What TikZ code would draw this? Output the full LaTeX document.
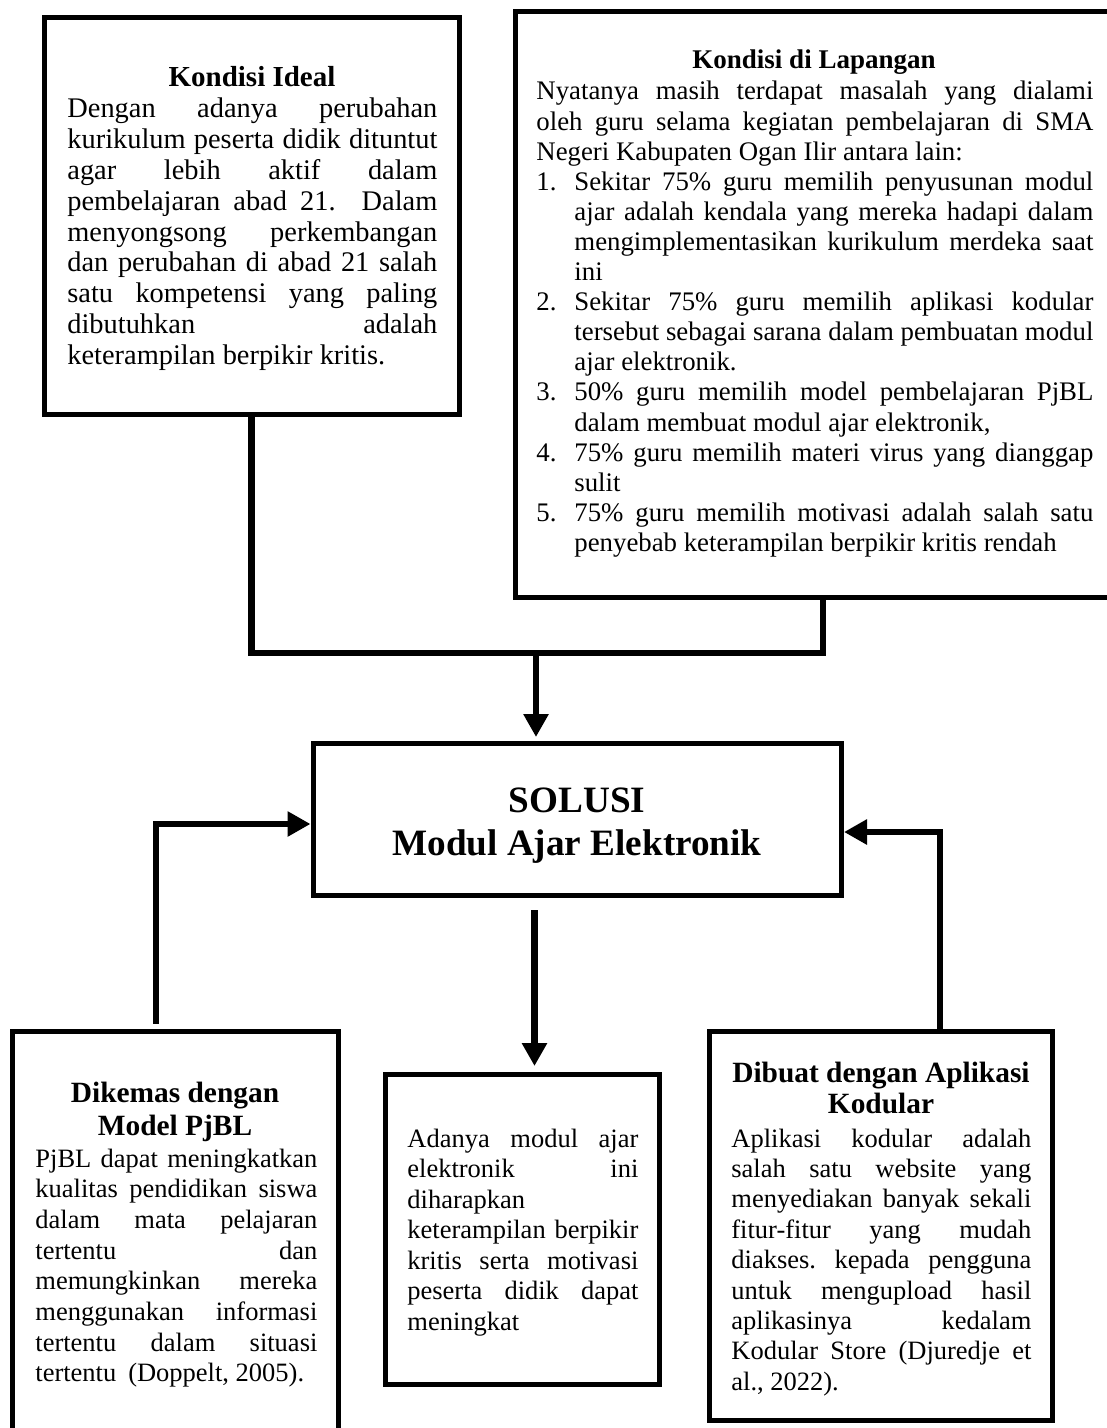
\documentclass[tikz,border=0pt]{standalone}
\usepackage{fontspec}
\setmainfont{Liberation Serif}
\usetikzlibrary{arrows.meta,fit}
\hbadness=10000 \hfuzz=6pt
\frenchspacing
\newcommand\jl[1]{\hbox to \linewidth{#1}}
\newcommand\nl[1]{\hbox{#1}}
\newcommand\ind{\hskip19pt}
\newcommand\itemno[1]{\hbox to 19pt{#1\hfil}}
\begin{document}
\begin{tikzpicture}[x=0.5pt,y=-0.5pt,
  boxst/.style={draw, line width=2.5pt, inner sep=0pt},
  conn/.style={line width=3.4pt},
  arr/.style={conn, -{Triangle[length=11.5pt,width=12pt]}},
  bodytx/.style={anchor=base west, inner sep=0pt, font=\fontsize{13.25}{15.25}\selectfont},
  titletx/.style={anchor=base, inner sep=0pt, font=\fontsize{14.7}{16}\selectfont\bfseries}]
\useasboundingbox (0,0) rectangle (1107,1428);
\clip (0,0) rectangle (1107,1428);

% boxes
\node[boxst, fit={(44.5,17.5) (459,414)}] (ideal) {};
\node[boxst, fit={(515,12) (1118,597.5)}] (lap) {};
\node[boxst, fit={(313,743.5) (841.5,895.5)}] (sol) {};
\node[boxst, fit={(12.5,1031) (338,1445)}] (pjbl) {};
\node[boxst, fit={(385.5,1074) (659.5,1384)}] (harap) {};
\node[boxst, fit={(709.5,1031) (1052,1420.5)}] (kod) {};

% Kondisi Ideal
\node[titletx, font=\fontsize{14.5}{16}\selectfont\bfseries] (idealT) at (252,87) {Kondisi Ideal};
\node[bodytx, font=\fontsize{14.2}{15.4}\selectfont] (idealB) at (67,118) {\parbox[t]{185pt}{%
\jl{Dengan adanya perubahan}
\jl{kurikulum peserta didik dituntut}
\jl{agar lebih aktif dalam}
\jl{pembelajaran abad 21.\ \ Dalam}
\jl{menyongsong perkembangan}
\jl{dan perubahan di abad 21 salah}
\jl{satu kompetensi yang paling}
\jl{dibutuhkan adalah}
\nl{keterampilan berpikir kritis.}}};

% Kondisi di Lapangan
\node[titletx, font=\fontsize{13.5}{15}\selectfont\bfseries] (lapT) at (814,69) {Kondisi di Lapangan};
\node[bodytx, font=\fontsize{13.4}{15.05}\selectfont] (lapB) at (536,100) {\parbox[t]{278.5pt}{%
\jl{Nyatanya masih terdapat masalah yang dialami}
\jl{oleh guru selama kegiatan pembelajaran di SMA}
\nl{Negeri Kabupaten Ogan Ilir antara lain:}
\jl{\itemno{1.}Sekitar 75\% guru memilih penyusunan modul}
\jl{\ind ajar adalah kendala yang mereka hadapi dalam}
\jl{\ind mengimplementasikan kurikulum merdeka saat}
\nl{\ind ini}
\jl{\itemno{2.}Sekitar 75\% guru memilih aplikasi kodular}
\jl{\ind tersebut sebagai sarana dalam pembuatan modul}
\nl{\ind ajar elektronik.}
\jl{\itemno{3.}50\% guru memilih model pembelajaran PjBL}
\nl{\ind dalam membuat modul ajar elektronik,}
\jl{\itemno{4.}75\% guru memilih materi virus yang dianggap}
\nl{\ind sulit}
\jl{\itemno{5.}75\% guru memilih motivasi adalah salah satu}
\nl{\ind penyebab keterampilan berpikir kritis rendah}}};

% SOLUSI
\node[titletx, font=\fontsize{18.6}{21.5}\selectfont\bfseries] (solT) at (577,812) {\parbox[t]{300pt}{\centering SOLUSI\\Modul Ajar Elektronik}};

% Dikemas dengan Model PjBL
\node[titletx, font=\fontsize{14.7}{16.5}\selectfont\bfseries] (pjblT) at (175,1102) {\parbox[t]{170pt}{\centering Dikemas dengan\\Model PjBL}};
\node[bodytx, font=\fontsize{13.25}{15.35}\selectfont] (pjblB) at (35,1167) {\parbox[t]{141pt}{%
\jl{PjBL dapat meningkatkan}
\jl{kualitas pendidikan siswa}
\jl{dalam mata pelajaran}
\jl{tertentu dan}
\jl{memungkinkan mereka}
\jl{menggunakan informasi}
\jl{tertentu dalam situasi}
\nl{tertentu\hskip0.45em(Doppelt, 2005).}}};

% middle box
\node[bodytx] (harapB) at (407,1147) {\parbox[t]{115.5pt}{%
\jl{Adanya modul ajar}
\jl{elektronik ini}
\nl{diharapkan}
\jl{keterampilan berpikir}
\jl{kritis serta motivasi}
\jl{peserta didik dapat}
\nl{meningkat}}};

% Dibuat dengan Aplikasi Kodular
\node[titletx, font=\fontsize{14.7}{15.5}\selectfont\bfseries] (kodT) at (881,1082) {\parbox[t]{170pt}{\centering Dibuat dengan Aplikasi\\Kodular}};
\node[bodytx, font=\fontsize{13.25}{15.2}\selectfont] (kodB) at (731,1147) {\parbox[t]{150pt}{%
\jl{Aplikasi kodular adalah}
\jl{salah satu website yang}
\jl{menyediakan banyak sekali}
\jl{fitur-fitur yang mudah}
\jl{diakses. kepada pengguna}
\jl{untuk mengupload hasil}
\jl{aplikasinya kedalam}
\jl{Kodular Store (Djuredje et}
\nl{al., 2022).}}};

% connectors
\coordinate (cR) at (823,653);
\coordinate (jn) at (536,653);
\draw[conn] (ideal.south) |- (cR) -- (cR |- lap.south);
\draw[arr, shorten >=2pt] (jn) -- (jn |- sol.north);

\coordinate (lc) at (156,824);
\draw[arr, shorten <=2.5pt] (lc |- pjbl.north) -- (lc) -- (lc -| sol.west);

\coordinate (rc) at (940,832);
\draw[arr] (rc |- kod.north) -- (rc) -- (rc -| sol.east);

\coordinate (mc) at (534.5,910);
\draw[arr, shorten >=2.75pt] (mc) -- (mc |- harap.north);
\end{tikzpicture}
\end{document}
